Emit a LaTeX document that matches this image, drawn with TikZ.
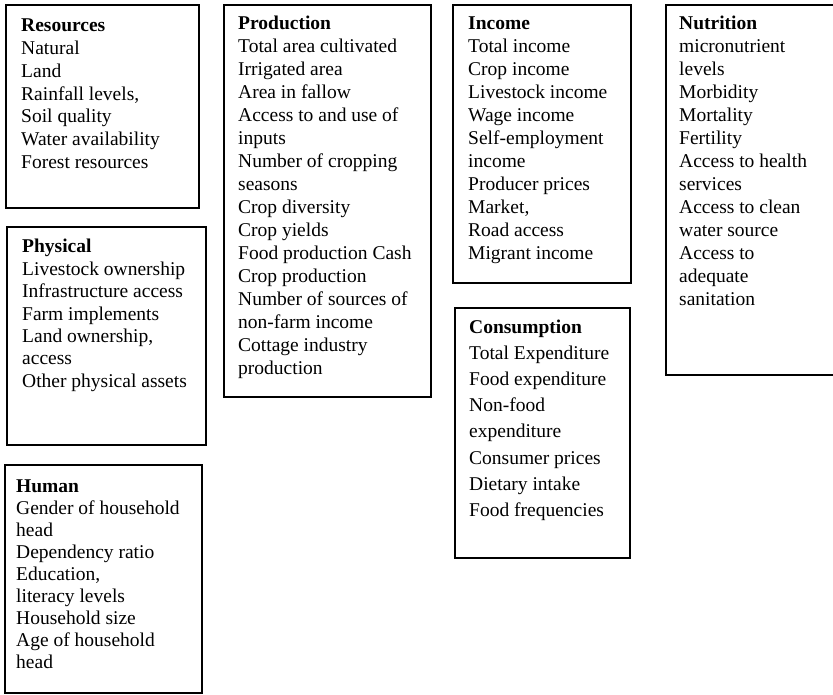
\documentclass[tikz,border=0pt]{standalone}
\usepackage{fontspec}
\setmainfont{Liberation Serif}
\begin{document}
\begin{tikzpicture}[x=1pt,y=-1pt,
  box/.style={draw=black,line width=1.8pt},
  lst/.style={anchor=base west,inner sep=0pt,align=left}]
\clip (0,0) rectangle (833,695);
\fill[white] (0,0) rectangle (833,695);
% category frames
\draw[box] (6,5) rectangle (199,208);
\draw[box] (7,227) rectangle (206,445);
\draw[box] (5,465) rectangle (202,693);
\draw[box] (224,5) rectangle (431,397);
\draw[box] (453,5) rectangle (631,283);
\draw[box] (455,308) rectangle (630,558);
\draw[box] (666,5) rectangle (850,375);
% indicator lists
\newcommand{\indlist}[2]{\fontsize{19.5}{#1}\selectfont\begin{tabular}[t]{@{}l@{}}#2\end{tabular}}
\node[lst] (resources) at (21,32) {\indlist{22.7}{\textbf{Resources}\\ Natural\\ Land\\ Rainfall levels,\\ Soil quality\\ Water availability\\ Forest resources}};
\node[lst] (physical) at (22,253) {\indlist{22.4}{\textbf{Physical}\\ Livestock ownership\\ Infrastructure access\\ Farm implements\\ Land ownership,\\ access\\ Other physical assets}};
\node[lst] (human) at (16,492) {\indlist{22}{\textbf{Human}\\ Gender of household\\ head\\ Dependency ratio\\ Education,\\ literacy levels\\ Household size\\ Age of household\\ head}};
\node[lst] (production) at (238,30) {\indlist{23}{\textbf{Production}\\ Total area cultivated\\ Irrigated area\\ Area in fallow\\ Access to and use of\\ inputs\\ Number of cropping\\ seasons\\ Crop diversity\\ Crop yields\\ Food production Cash\\ Crop production\\ Number of sources of\\ non-farm income\\ Cottage industry\\ production}};
\node[lst] (income) at (468,30) {\indlist{23}{\textbf{Income}\\ Total income\\ Crop income\\ Livestock income\\ Wage income\\ Self-employment\\ income\\ Producer prices\\ Market,\\ Road access\\ Migrant income}};
\node[lst] (consumption) at (469,333) {\indlist{26.2}{\textbf{Consumption}\\ Total Expenditure\\ Food expenditure\\ Non-food\\ expenditure\\ Consumer prices\\ Dietary intake\\ Food frequencies}};
\node[lst] (nutrition) at (679,30) {\indlist{23}{\textbf{Nutrition}\\ micronutrient\\ levels\\ Morbidity\\ Mortality\\ Fertility\\ Access to health\\ services\\ Access to clean\\ water source\\ Access to\\ adequate\\ sanitation}};
\end{tikzpicture}
\end{document}
